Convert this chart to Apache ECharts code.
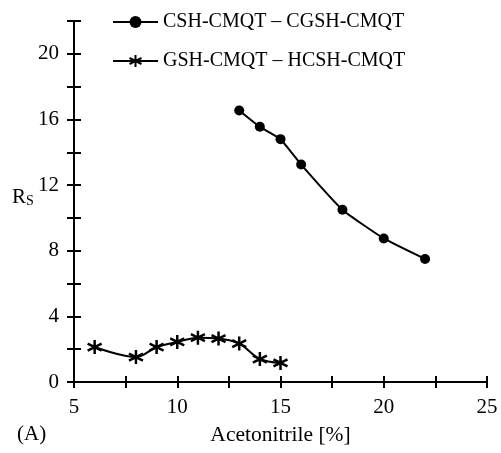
<!DOCTYPE html>
<html>
<head>
<meta charset="utf-8">
<script src="https://cdn.jsdelivr.net/npm/echarts@6/dist/echarts.min.js"></script>
<style>
  html, body { margin: 0; padding: 0; background: #fff; }
  #main { width: 501px; height: 453px; }
</style>
</head>
<body>
<div id="main"></div>
<script>
var seriesNames = ['CSH-CMQT \u2013 CGSH-CMQT', 'GSH-CMQT \u2013 HCSH-CMQT'];

var xCsh = [13, 14, 15, 16, 18, 20, 22];
var yCsh = [16.55, 15.55, 14.8, 13.25, 10.5, 8.75, 7.5];

var xGsh = [6, 8, 9, 10, 11, 12, 13, 14, 15];
var yGsh = [2.13, 1.52, 2.13, 2.44, 2.7, 2.65, 2.34, 1.4, 1.16];

var xLabels = [5, 10, 15, 20, 25];
var yLabels = [0, 4, 8, 12, 16, 20];

function pairs(xs, ys) {
    var out = [];
    for (var i = 0; i < xs.length; i++) {
        out.push([xs[i], ys[i]]);
    }
    return out;
}

var font = 'Liberation Serif';
var star = 'path://M0,-1L0,1M-0.87,-0.5L0.87,0.5M-0.87,0.5L0.87,-0.5';

var myChart = echarts.init(document.getElementById('main'));
var option = {
    animation: false,
    textStyle: { fontFamily: font, color: '#000' },
    grid: { left: 74, right: 14, top: 21, bottom: 71 },
    legend: {
        orient: 'vertical',
        left: 107,
        top: 7,
        itemWidth: 45,
        itemHeight: 15,
        itemGap: 19,
        data: seriesNames,
        textStyle: { fontFamily: font, fontSize: 20, color: '#000', lineHeight: 20 }
    },
    graphic: [
        {
            type: 'text', left: 12, top: 187,
            style: {
                text: '{a|R}{b|S}',
                rich: {
                    a: { fontFamily: font, fontSize: 21, fill: '#000' },
                    b: { fontFamily: font, fontSize: 14, fill: '#000', padding: [8, 0, 0, 0] }
                }
            }
        },
        {
            type: 'text', left: 17, top: 424,
            style: { text: '(A)', fontFamily: font, fontSize: 21, fill: '#000' }
        }
    ],
    xAxis: [{
        type: 'value',
        min: 5, max: 25, interval: 2.5,
        name: 'Acetonitrile [%]',
        nameLocation: 'middle',
        nameGap: 42,
        nameTextStyle: { fontFamily: font, fontSize: 21.5, color: '#000' },
        axisLine: { lineStyle: { color: '#000', width: 2 } },
        axisTick: { length: 6, lineStyle: { color: '#000', width: 2 } },
        splitLine: { show: false },
        axisLabel: {
            margin: 15, fontFamily: font, fontSize: 21, color: '#000',
            formatter: function (v) { return xLabels.indexOf(v) >= 0 ? String(v) : ''; }
        }
    }, {
        type: 'value',
        position: 'bottom',
        min: 5, max: 25, interval: 2.5,
        axisLine: { show: false },
        axisTick: { inside: true, length: 6, lineStyle: { color: '#000', width: 2 } },
        axisLabel: { show: false },
        splitLine: { show: false }
    }],
    yAxis: [{
        type: 'value',
        min: 0, max: 22, interval: 2,
        axisLine: { lineStyle: { color: '#000', width: 2 } },
        axisTick: { length: 7, lineStyle: { color: '#000', width: 2 } },
        splitLine: { show: false },
        axisLabel: {
            margin: 15, fontFamily: font, fontSize: 21, color: '#000',
            formatter: function (v) { return yLabels.indexOf(v) >= 0 ? String(v) : ''; }
        }
    }, {
        type: 'value',
        position: 'left',
        min: 0, max: 22, interval: 2,
        axisLine: { show: false },
        axisTick: { inside: true, length: 7, lineStyle: { color: '#000', width: 2 } },
        axisLabel: { show: false },
        splitLine: { show: false }
    }],
    series: [{
        name: seriesNames[0],
        type: 'line',
        data: pairs(xCsh, yCsh),
        smooth: 0.15,
        symbol: 'circle',
        symbolSize: 10,
        lineStyle: { color: '#000', width: 2 },
        itemStyle: { color: '#000' }
    }, {
        name: seriesNames[1],
        type: 'line',
        data: pairs(xGsh, yGsh),
        smooth: 0.35,
        symbol: star,
        symbolSize: 14,
        lineStyle: { color: '#000', width: 2 },
        itemStyle: { color: '#000', borderColor: '#000', borderWidth: 2.5 }
    }]
};
myChart.setOption(option);
</script>
</body>
</html>
